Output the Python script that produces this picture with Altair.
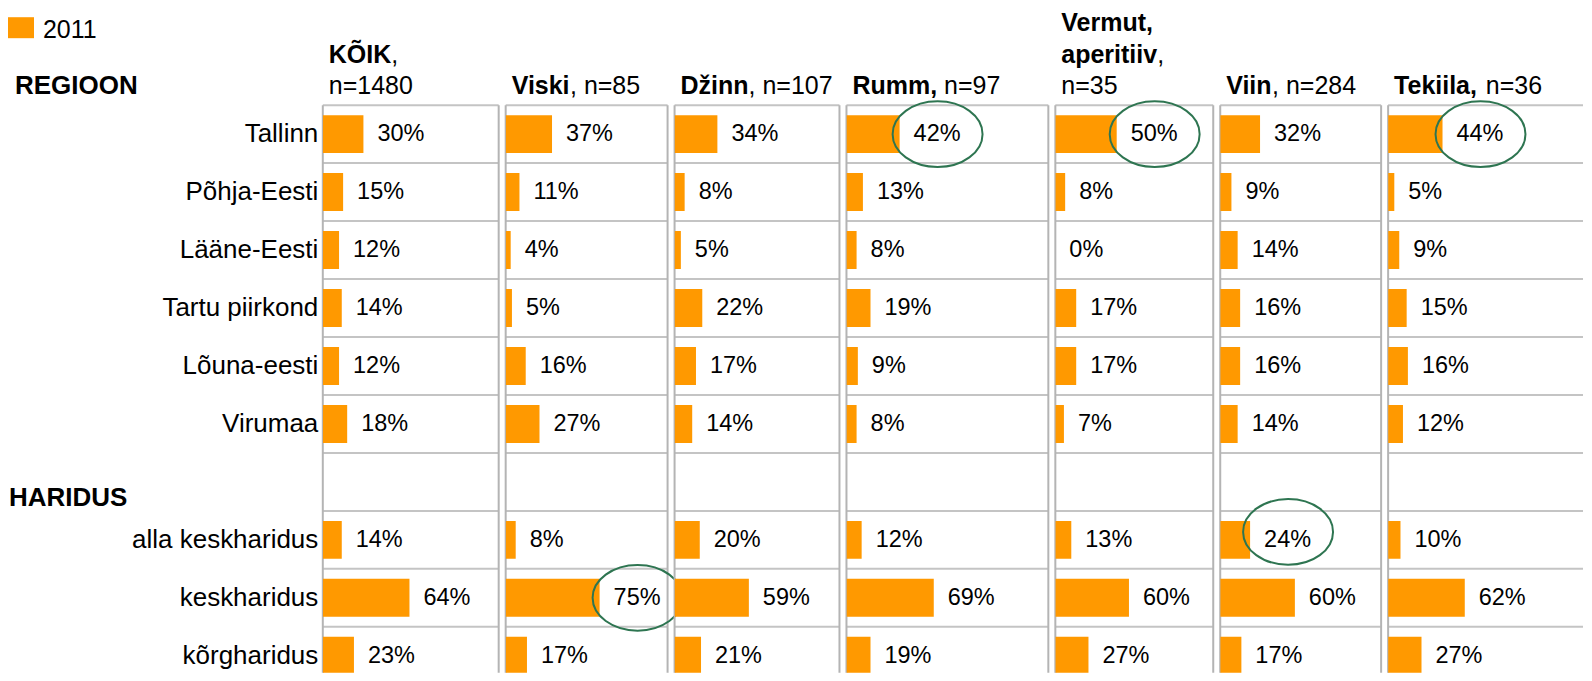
import altair as alt
import pandas as pd

# ---------------- data ----------------
rows = ["Tallinn", "Põhja-Eesti", "Lääne-Eesti", "Tartu piirkond", "Lõuna-eesti",
        "Virumaa", "_", "alla keskharidus", "keskharidus", "kõrgharidus"]
data_rows = [r for r in rows if r != "_"]

kõik = [30, 15, 12, 14, 12, 18, 14, 64, 23]
viski = [37, 11, 4, 5, 16, 27, 8, 75, 17]
dzinn = [34, 8, 5, 22, 17, 14, 20, 59, 21]
rumm = [42, 13, 8, 19, 9, 8, 12, 69, 19]
vermut = [50, 8, 0, 17, 17, 7, 13, 60, 27]
viin = [32, 9, 14, 16, 16, 14, 24, 60, 17]
tekiila = [44, 5, 9, 15, 16, 12, 10, 62, 27]
series = [kõik, viski, dzinn, rumm, vermut, viin, tekiila]

# panel titles: lines of (text, bold) segments
titles = [
    [[("KÕIK", True), (",", False)], [("n=1480", False)]],
    [[("Viski", True), (", n=85", False)]],
    [[("Džinn", True), (", n=107", False)]],
    [[("Rumm,", True), (" n=97", False)]],
    [[("Vermut,", True)], [("aperitiiv", True), (",", False)], [("n=35", False)]],
    [[("Viin", True), (", n=284", False)]],
    [[("Tekiila,", True), (" n=36", False)]],
]

# highlighted (circled) values: (panel index, row)
highlights = [(3, "Tallinn"), (4, "Tallinn"), (6, "Tallinn"), (1, "keskharidus"), (5, "alla keskharidus")]

section_heads = ["REGIOON", "HARIDUS"]
legend_label = "2011"

# ---------------- layout / style ----------------
FONT = "Liberation Sans"
ORANGE = "#FF9900"
GREEN = "#2E7551"
GRID = "#C4C4C4"
BORDER = "#B4B4B4"
panel_widths = [176, 162, 165, 202, 158, 161, 195]
px_per_pct = [1.355, 1.253, 1.26, 1.266, 1.228, 1.245, 1.237]
ROW_RANGE = 580   # full height of the 10 rows
H = 568           # visible part of the panels
TITLE_FS = 25
LINE_H = 31.5
ELLIPSE = "M -1 0 A 1 0.73 0 1 1 1 0 A 1 0.73 0 1 1 -1 0 Z"
ELLIPSE_DY = {5: -8}

REG = {",": 278, " ": 278, "n": 556, "=": 584, "a": 556, "p": 556, "e": 556,
       "r": 333, "i": 222, "t": 278, "v": 500}
BOLD = {"K": 722, "Õ": 778, "I": 278, ",": 278, "V": 667, "i": 278, "s": 556,
        "k": 556, "D": 722, "ž": 500, "n": 611, "R": 722, "u": 611, "m": 889,
        "e": 556, "r": 389, "t": 333, "a": 556, "p": 611, "v": 556, "T": 611,
        "l": 278, " ": 278}


def text_width(s, bold, size):
    table = BOLD if bold else REG
    return sum(table.get(c, 556) for c in s) * size / 1000.0


one = pd.DataFrame({"k": [0]})


def text_at(x, y, txt, size, bold=False):
    return alt.Chart(one).mark_text(
        align="left", baseline="alphabetic", font=FONT, fontSize=size,
        fontWeight="bold" if bold else "normal", color="black"
    ).encode(x=alt.value(x), y=alt.value(y), text=alt.value(txt))


def vline(x):
    return alt.Chart(one).mark_rule(color=BORDER, strokeWidth=2).encode(
        x=alt.value(x), y=alt.value(0), y2=alt.value(H))


def make_panel(i):
    w = panel_widths[i]
    last = i == len(series) - 1
    xmax = w / px_per_pct[i]
    xs = alt.Scale(domain=[0, xmax], nice=False, zero=True)
    ys = alt.Scale(domain=rows, range=[0, ROW_RANGE], paddingInner=0, paddingOuter=0)
    if i == 0:
        yaxis = alt.Axis(title=None, ticks=False, domain=False, grid=False,
                         labelFont=FONT, labelFontSize=26, labelColor="black",
                         labelPadding=5, labelLimit=400,
                         labelExpr="datum.value == '_' ? '' : datum.value")
    else:
        yaxis = None

    df = pd.DataFrame({"row": data_rows, "value": series[i]})
    df["label"] = df["value"].astype(str) + "%"

    grid = alt.Chart(pd.DataFrame({"row": rows})).mark_rule(
        color=GRID, strokeWidth=2
    ).encode(y=alt.Y("row:N", scale=ys, axis=yaxis, bandPosition=0))

    bars = alt.Chart(df).mark_bar(color=ORANGE, height={"band": 0.655}, clip=True).encode(
        x=alt.X("value:Q", scale=xs, axis=None),
        y=alt.Y("row:N", scale=ys, axis=yaxis),
    )
    labels = alt.Chart(df).mark_text(
        align="left", baseline="middle", dx=14, font=FONT, fontSize=23.5, color="black"
    ).encode(
        x=alt.X("value:Q", scale=xs, axis=None),
        y=alt.Y("row:N", scale=ys, axis=yaxis),
        text="label:N",
    )
    layers = [grid, vline(0)]
    if not last:
        layers.append(vline(w))
    layers += [bars, labels]

    hl_rows = [r for (p, r) in highlights if p == i]
    if hl_rows:
        hdf = df[df["row"].isin(hl_rows)]
        ell = alt.Chart(hdf).mark_point(
            shape=ELLIPSE, size=8100, filled=False, color=GREEN, strokeWidth=2,
            opacity=1, xOffset=38, yOffset=ELLIPSE_DY.get(i, 0)
        ).encode(
            x=alt.X("value:Q", scale=xs, axis=None),
            y=alt.Y("row:N", scale=ys, axis=yaxis),
        )
        layers.append(ell)

    lines = titles[i]
    n = len(lines)
    for li, line in enumerate(lines):
        y = -11 - LINE_H * (n - 1 - li)
        x = 6
        for seg, bold in line:
            stripped = seg.lstrip(" ")
            x += text_width(seg[: len(seg) - len(stripped)], bold, TITLE_FS)
            layers.append(text_at(x, y, stripped, TITLE_FS, bold))
            x += text_width(stripped, bold, TITLE_FS)

    if i == 0:
        layers.append(text_at(-308, -11, section_heads[0], 26, True))
        layers.append(text_at(-314, 401, section_heads[1], 26, True))
        legend_rect = alt.Chart(one).mark_rect(color=ORANGE).encode(
            x=alt.value(-315), x2=alt.value(-289), y=alt.value(-88), y2=alt.value(-67)
        )
        layers.append(legend_rect)
        layers.append(text_at(-280, -67, legend_label, 25, False))

    return alt.layer(*layers).properties(width=w, height=H)


panels = [make_panel(i) for i in range(len(series))]

chart = alt.hconcat(*panels, spacing=7, bounds="flush").properties(
    padding={"left": 0, "top": 3, "right": 0, "bottom": 0}
).configure_view(stroke=None)

chart.save("out.html", embed_options={"renderer": "svg", "actions": False})
